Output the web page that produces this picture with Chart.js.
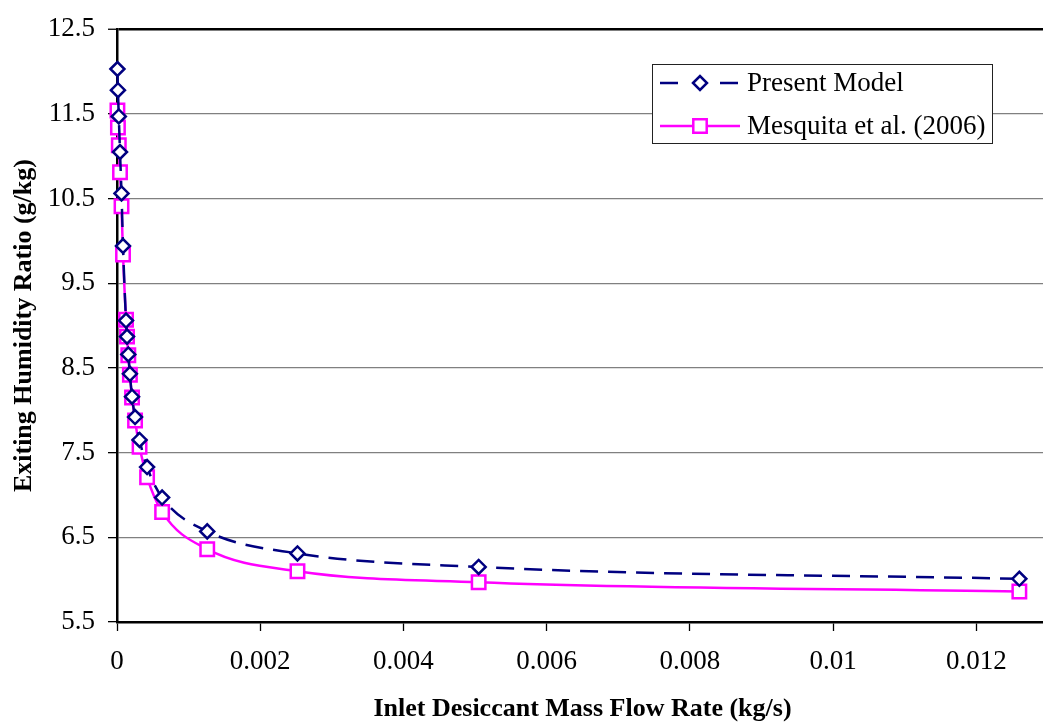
<!DOCTYPE html>
<html>
<head>
<meta charset="utf-8">
<script src="https://cdn.jsdelivr.net/npm/chart.js@4.4.0/dist/chart.umd.min.js"></script>
<style>
  html, body { margin: 0; padding: 0; background: #fff; overflow: hidden; }
  #chart { display: block; }
</style>
</head>
<body>
<canvas id="chart" width="1060" height="725"></canvas>
<script>
// inlet desiccant mass flow rate (kg/s), shared by both series
const flowRates = [0.000006, 0.000013, 0.000025, 0.000042, 0.000063, 0.000084, 0.000126, 0.00014, 0.000158, 0.00018,
                   0.00021, 0.000252, 0.000315, 0.00042, 0.00063, 0.00126, 0.00252, 0.00505, 0.0126];
const presentModel = [12.03, 11.78, 11.47, 11.05, 10.56, 9.94, 9.06, 8.87, 8.66, 8.43,
                      8.16, 7.92, 7.65, 7.33, 6.97, 6.57, 6.31, 6.15, 6.01];
const mesquita = [11.54, 11.34, 11.13, 10.81, 10.41, 9.84, 9.07, 8.87, 8.65, 8.42,
                  8.15, 7.88, 7.57, 7.21, 6.80, 6.36, 6.10, 5.97, 5.86];
const seriesNames = ['Present Model', 'Mesquita et al. (2006)'];
const xTickValues = [0, 0.002, 0.004, 0.006, 0.008, 0.01, 0.012];
const yTickValues = [5.5, 6.5, 7.5, 8.5, 9.5, 10.5, 11.5, 12.5];

const serif = "'Liberation Serif', 'Times New Roman', serif";
const navy = '#000080';
const magenta = '#ff00ff';

function toPoints(values) {
    return values.map((v, i) => ({ x: flowRates[i], y: v }));
}

// excel style legend box drawn inside the plot
const boxLegend = {
    id: 'boxLegend',
    afterDraw(chart) {
        const ctx = chart.ctx;
        const sets = chart.data.datasets;
        ctx.save();
        ctx.fillStyle = '#fff';
        ctx.fillRect(652, 64, 340, 79);
        ctx.strokeStyle = '#222';
        ctx.lineWidth = 1;
        ctx.strokeRect(652.5, 64.5, 340, 79);

        const rows = [83, 126];
        sets.forEach((ds, i) => {
            const y = rows[i];
            ctx.strokeStyle = ds.borderColor;
            ctx.lineWidth = ds.borderWidth;
            ctx.beginPath();
            if (ds.borderDash && ds.borderDash.length) {
                ctx.moveTo(660, y); ctx.lineTo(678, y);
                ctx.moveTo(720, y); ctx.lineTo(738, y);
            } else {
                ctx.moveTo(660, y); ctx.lineTo(740, y);
            }
            ctx.stroke();
            ctx.fillStyle = '#fff';
            Chart.helpers.drawPoint(ctx, {
                pointStyle: ds.pointStyle,
                radius: ds.pointRadius,
                rotation: 0,
                borderWidth: ds.pointBorderWidth
            }, 700, y);

            ctx.fillStyle = '#000';
            ctx.font = '27px ' + serif;
            ctx.textAlign = 'left';
            ctx.textBaseline = 'middle';
            ctx.fillText(ds.label, 747, y + 1);
        });
        ctx.restore();
    }
};

const ctx = document.getElementById('chart');

new Chart(ctx, {
    type: 'line',
    data: {
        datasets: [
            {
                label: seriesNames[0],
                data: toPoints(presentModel),
                borderColor: navy,
                borderWidth: 2.5,
                borderDash: [18, 10],
                cubicInterpolationMode: 'monotone',
                pointStyle: 'rectRot',
                pointRadius: 7,
                pointBorderWidth: 2.5,
                pointBorderColor: navy,
                pointBackgroundColor: '#fff',
                fill: false,
                clip: false
            },
            {
                label: seriesNames[1],
                data: toPoints(mesquita),
                borderColor: magenta,
                borderWidth: 2.5,
                cubicInterpolationMode: 'monotone',
                pointStyle: 'rect',
                pointRadius: 9.5,
                pointBorderWidth: 2.5,
                pointBorderColor: magenta,
                pointBackgroundColor: '#fff',
                fill: false,
                clip: false
            }
        ]
    },
    options: {
        responsive: false,
        animation: false,
        events: [],
        layout: { padding: { top: 20, right: 7, left: 0, bottom: 0 } },
        plugins: {
            legend: { display: false },
            tooltip: { enabled: false }
        },
        scales: {
            x: {
                type: 'linear',
                min: 0,
                max: 0.013,
                afterBuildTicks: (scale) => {
                    scale.ticks = xTickValues.map(v => ({ value: v }));
                },
                afterFit: (scale) => { scale.height = 103; },
                ticks: {
                    color: '#000',
                    padding: 15,
                    maxRotation: 0,
                    autoSkip: false,
                    font: { family: serif, size: 27 },
                    callback: (v) => String(+Number(v).toFixed(4))
                },
                grid: {
                    drawOnChartArea: false,
                    drawTicks: true,
                    tickLength: 9,
                    tickColor: '#000',
                    tickWidth: 1.3
                },
                border: { color: '#000', width: 2.5 },
                title: {
                    display: true,
                    text: 'Inlet Desiccant Mass Flow Rate (kg/s)',
                    color: '#000',
                    font: { family: serif, size: 26, weight: 'bold' },
                    padding: { top: 0, bottom: 0 }
                }
            },
            y: {
                type: 'linear',
                min: 5.5,
                max: 12.5,
                afterBuildTicks: (scale) => {
                    scale.ticks = yTickValues.map(v => ({ value: v }));
                },
                afterFit: (scale) => { scale.width = 117; },
                ticks: {
                    color: '#000',
                    padding: 13,
                    autoSkip: false,
                    font: { family: serif, size: 27 },
                    callback: (v) => Number(v).toFixed(1)
                },
                grid: {
                    color: (c) => c.tick && c.tick.value === 12.5 ? '#000' : '#808080',
                    lineWidth: (c) => c.tick && c.tick.value === 12.5 ? 2.5 : 1.3,
                    drawTicks: true,
                    tickLength: 9,
                    tickColor: '#000',
                    tickWidth: 1.3
                },
                border: { color: '#000', width: 2.5 },
                title: {
                    display: true,
                    text: 'Exiting Humidity Ratio (g/kg)',
                    color: '#000',
                    font: { family: serif, size: 26, weight: 'bold' },
                    padding: { top: 9, bottom: 0 }
                }
            }
        }
    },
    plugins: [boxLegend]
});
</script>
</body>
</html>
